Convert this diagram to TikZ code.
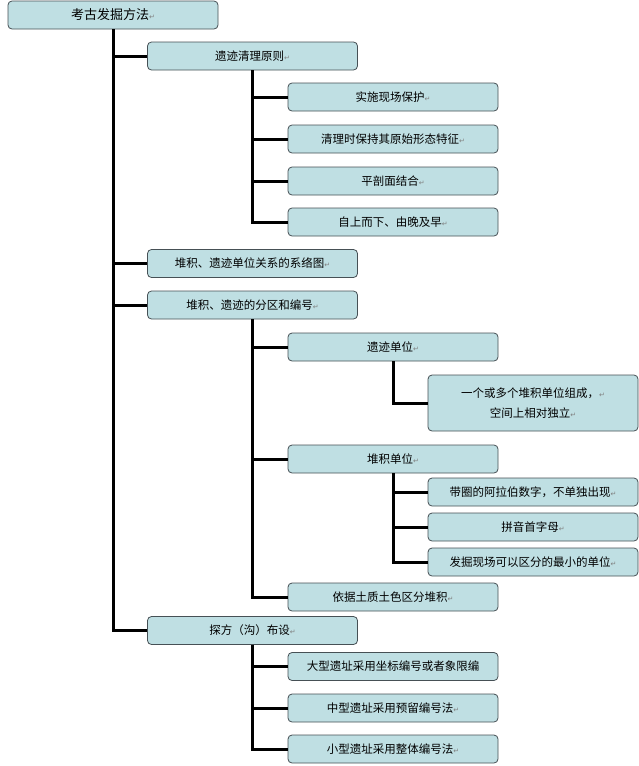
\documentclass[tikz,border=0pt]{standalone}
\usepackage{fontspec}
\newfontfamily\cjk{Noto Sans CJK SC}
\newfontfamily\symb{DejaVu Sans}
\usetikzlibrary{positioning}
\definecolor{boxfill}{RGB}{191, 223, 227}
\definecolor{boxline}{RGB}{70, 80, 85}
\newcommand{\ret}{{\symb\fontsize{7}{7}\selectfont\color{gray}↵}}
\tikzset{
  box/.style={rectangle, rounded corners=4pt, draw=boxline, fill=boxfill, line width=0.8pt,
    minimum width=210pt, minimum height=28pt, inner sep=2pt, align=center,
    font=\cjk\fontsize{11.5}{20}\selectfont},
  tree/.style={line width=3pt, black}
}
\begin{document}
\begin{tikzpicture}[x=1pt, y=-1pt]
    \useasboundingbox (0,0) rectangle (639,766);

    % Root
    \node[box, font=\cjk\fontsize{13}{15}\selectfont] (root) at (113, 15) {考古发掘方法\ret};

    % Level one
    \node[box] (qingli) at (252.5, 56) {遗迹清理原则\ret};
    \node[box] (xiluo) at (252.5, 263.5) {堆积、遗迹单位关系的系络图\ret};
    \node[box] (fenqu) at (252.5, 305) {堆积、遗迹的分区和编号\ret};
    \node[box] (tanfang) at (252.5, 630.5) {探方（沟）布设\ret};

    % Principles
    \node[box] (baohu) at (393, 97) {实施现场保护\ret};
    \node[box] (xingtai) at (393, 139) {清理时保持其原始形态特征\ret};
    \node[box] (pingpou) at (393, 181) {平剖面结合\ret};
    \node[box] (shangxia) at (393, 222) {自上而下、由晚及早\ret};

    % Partition and numbering
    \node[box] (yiji) at (393, 347) {遗迹单位\ret};
    \node[box, minimum height=56pt] (zucheng) at (533, 403) {一个或多个堆积单位组成，\ret\\空间上相对独立\ret};
    \node[box] (duiji) at (393, 459) {堆积单位\ret};
    \node[box] (quan) at (533, 492) {带圈的阿拉伯数字，不单独出现\ret};
    \node[box] (pinyin) at (533, 527) {拼音首字母\ret};
    \node[box] (zuixiao) at (533, 562) {发掘现场可以区分的最小的单位\ret};
    \node[box] (tuse) at (393, 597) {依据土质土色区分堆积\ret};

    % Grid layout
    \node[box] (daxing) at (393, 666.5) {大型遗址采用坐标编号或者象限编};
    \node[box] (zhongxing) at (393, 708) {中型遗址采用预留编号法\ret};
    \node[box] (xiaoxing) at (393, 749) {小型遗址采用整体编号法\ret};

    % Tree lines
    \begin{scope}[on background layer/.style={}]
    \foreach \n in {qingli, xiluo, fenqu, tanfang}
        \draw[tree] (root.south) |- (\n.west);
    \foreach \n in {baohu, xingtai, pingpou, shangxia}
        \draw[tree] (qingli.south) |- (\n.west);
    \foreach \n in {yiji, duiji, tuse}
        \draw[tree] (fenqu.south) |- (\n.west);
    \draw[tree] (yiji.south) |- (zucheng.west);
    \foreach \n in {quan, pinyin, zuixiao}
        \draw[tree] (duiji.south) |- (\n.west);
    \foreach \n in {daxing, zhongxing, xiaoxing}
        \draw[tree] (tanfang.south) |- (\n.west);
    \end{scope}
\end{tikzpicture}
\end{document}
